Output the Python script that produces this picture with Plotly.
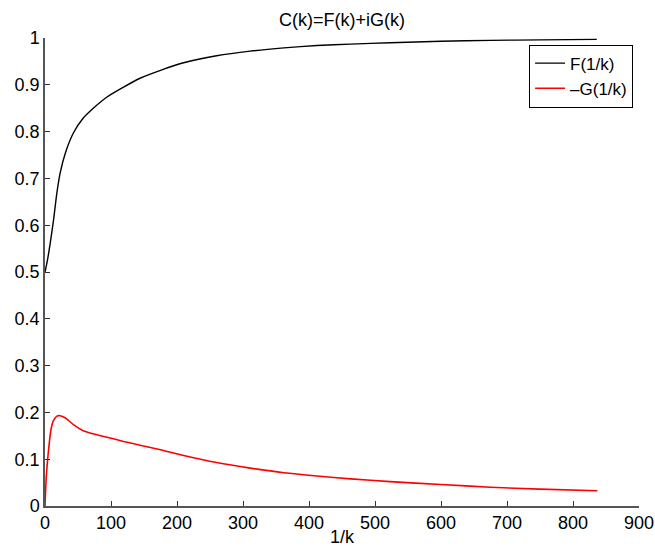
import plotly.graph_objects as go

# 1/k values and curve readings
x_f = [0, 3, 8, 13, 18, 23, 31, 43, 58, 74, 94, 119, 144, 175, 210, 260, 311, 362, 412, 463, 523, 600, 675, 750, 836]
f_vals = [0.500, 0.520, 0.562, 0.612, 0.669, 0.712, 0.755, 0.797, 0.829, 0.851, 0.874, 0.895, 0.914, 0.931,
          0.947, 0.962, 0.972, 0.979, 0.984, 0.987, 0.990, 0.993, 0.995, 0.996, 0.997]

x_g = [0, 2, 5.5, 9, 13, 18, 23, 31, 43, 58, 74, 94, 119, 144, 175, 210, 260, 311, 362, 412, 463, 523, 600, 675, 750, 837]
g_vals = [0.000, 0.064, 0.121, 0.163, 0.183, 0.192, 0.193, 0.188, 0.174, 0.161, 0.154, 0.147, 0.138, 0.130, 0.120,
          0.108, 0.093, 0.081, 0.071, 0.064, 0.058, 0.052, 0.046, 0.040, 0.036, 0.0325]

x_ticks = list(range(0, 901, 100))
y_ticks = [i / 10 for i in range(11)]

fig = go.Figure()
fig.add_trace(go.Scatter(x=x_f, y=f_vals, mode="lines", name="F(1/k)",
                         line=dict(color="black", width=1.4, shape="spline", smoothing=0.6)))
fig.add_trace(go.Scatter(x=x_g, y=g_vals, mode="lines", name="\u2013G(1/k)",
                         line=dict(color="red", width=1.6, shape="spline", smoothing=0.6)))

font_family = "Liberation Sans, Arial, Helvetica, sans-serif"
fs = 18
fig.update_layout(
    width=655, height=547,
    margin=dict(l=45, r=16, t=38, b=41),
    paper_bgcolor="white", plot_bgcolor="white",
    font=dict(family=font_family, size=fs, color="black"),
    title=dict(text="C(k)=F(k)+iG(k)", x=0.5, xref="paper", xanchor="center",
               y=1 - 20 / 547, yref="container", yanchor="middle",
               font=dict(family=font_family, size=fs, color="black")),
    showlegend=True,
    legend=dict(x=0.99, y=0.986, xanchor="right", yanchor="top",
                bordercolor="black", borderwidth=1, bgcolor="white",
                font=dict(family=font_family, size=17, color="black"),
                tracegroupgap=0, itemwidth=30, entrywidth=126, entrywidthmode="pixels"),
    xaxis=dict(range=[0, 900], tickvals=x_ticks, ticktext=[str(v) for v in x_ticks],
               showgrid=False, zeroline=False, showline=True, linecolor="#555", linewidth=1.5,
               ticks="inside", ticklen=5, tickcolor="#333", tickwidth=1, automargin=False,
               tickfont=dict(family=font_family, size=fs)),
    yaxis=dict(range=[0, 1], tickvals=y_ticks,
               ticktext=["0" if v == 0 else ("1" if v == 1 else f"{v:.1f}") for v in y_ticks],
               showgrid=False, zeroline=False, showline=True, linecolor="#555", linewidth=1.5,
               ticks="inside", ticklen=5, tickcolor="#333", tickwidth=1, automargin=False,
               tickfont=dict(family=font_family, size=fs)),
    annotations=[dict(text="1/k", xref="paper", yref="paper", x=0.5, y=-(537 - 506.5) / 468,
                      xanchor="center", yanchor="middle", showarrow=False,
                      font=dict(family=font_family, size=fs, color="black"))],
)

fig.write_html("out.html", config={"displayModeBar": False},
               post_script="document.body.style.margin='0';document.body.style.padding='0';")
